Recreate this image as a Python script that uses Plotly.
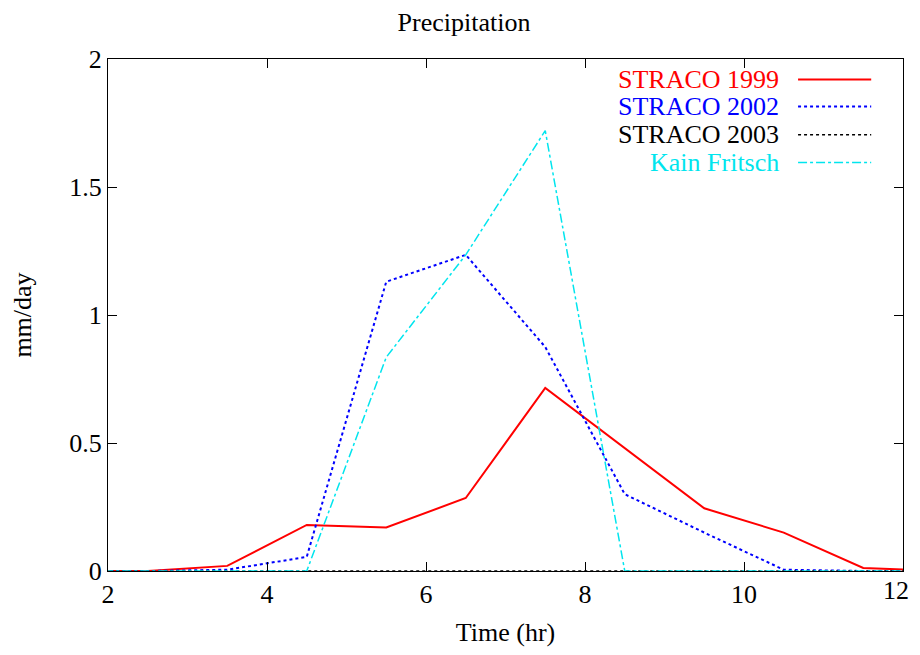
import plotly.graph_objects as go

time_hr = [1.5, 2.5, 3.5, 4.5, 5.5, 6.5, 7.5, 8.5, 9.5, 10.5, 11.5, 12.5]
straco_1999 = [0.0, 0.0, 0.02, 0.18, 0.17, 0.285, 0.715, 0.48, 0.245, 0.15, 0.012, 0.0]
straco_2002 = [0.0, 0.0, 0.005, 0.055, 1.13, 1.235, 0.875, 0.30, 0.15, 0.005, 0.0, 0.0]
straco_2003 = [0.0, 0.0, 0.0, 0.0, 0.0, 0.0, 0.0, 0.0, 0.0, 0.0, 0.0, 0.0]
kain_fritsch = [0.0, 0.0, 0.0, 0.0, 0.835, 1.235, 1.72, 0.0, 0.0, 0.0, 0.0, 0.0]

series_names = ["STRACO 1999", "STRACO 2002", "STRACO 2003", "Kain Fritsch"]
series_values = [straco_1999, straco_2002, straco_2003, kain_fritsch]
colors = ["#ff0000", "#0000ff", "#000000", "#00e5ee"]
dashes = ["solid", "dot", "dot", "dashdot"]
widths = [2, 2, 1.5, 1.5]

x_tick_vals = [2, 4, 6, 8, 10, 12]
x_tick_text = ["2", "4", "6", "8", "10", ""]   # last label drawn below so it stays inside the window
last_x_label = "12"

FONT = "Liberation Serif, Times New Roman, serif"
FS = 26

fig = go.Figure()
for name, vals, c, d, w in zip(series_names, series_values, colors, dashes, widths):
    fig.add_trace(go.Scatter(x=time_hr, y=vals, mode="lines", name=name,
                             line=dict(color=c, dash=d, width=w), showlegend=False))

# Legend drawn gnuplot-style: text right-aligned, sample line to the right
leg_y = [0.960, 0.907, 0.852, 0.798]
for name, c, d, w, yy in zip(series_names, colors, dashes, widths, leg_y):
    fig.add_annotation(x=0.8465, y=yy, xref="paper", yref="paper", text=name,
                       showarrow=False, xanchor="right", yanchor="middle",
                       font=dict(family=FONT, size=FS, color=c))
    fig.add_shape(type="line", xref="paper", yref="paper", x0=0.868, x1=0.960,
                  y0=yy, y1=yy, line=dict(color=c, dash=d, width=w))

fig.add_annotation(x=x_tick_vals[-1], xref="x", y=0, yref="paper", text=last_x_label,
                   showarrow=False, xanchor="right", yanchor="top", xshift=8, yshift=-3,
                   font=dict(family=FONT, size=FS, color="black"))

axis_common = dict(showgrid=False, zeroline=False, showline=True, linecolor="black",
                   linewidth=1.2, mirror="ticks", ticks="inside", ticklen=9,
                   tickcolor="black", tickwidth=1, automargin=False,
                   tickfont=dict(family=FONT, size=FS, color="black"))

fig.update_layout(
    width=912, height=639,
    paper_bgcolor="white", plot_bgcolor="white",
    margin=dict(l=100, r=17, t=51, b=76),
    title=dict(text="Precipitation", x=0.5, xanchor="center", y=0.979, yanchor="middle",
               font=dict(family=FONT, size=FS, color="black"), automargin=False),
    xaxis=dict(range=[2, 12], tickvals=x_tick_vals, ticktext=x_tick_text,
               title=dict(text="Time (hr)", font=dict(family=FONT, size=FS, color="black"), standoff=17),
               **axis_common),
    yaxis=dict(range=[0, 2], tickvals=[0, 0.5, 1, 1.5, 2], ticktext=["0", "0.5", "1", "1.5", "2"],
               title=dict(text="mm/day", font=dict(family=FONT, size=FS, color="black"), standoff=38),
               **axis_common),
)

fig.write_html("out.html")
